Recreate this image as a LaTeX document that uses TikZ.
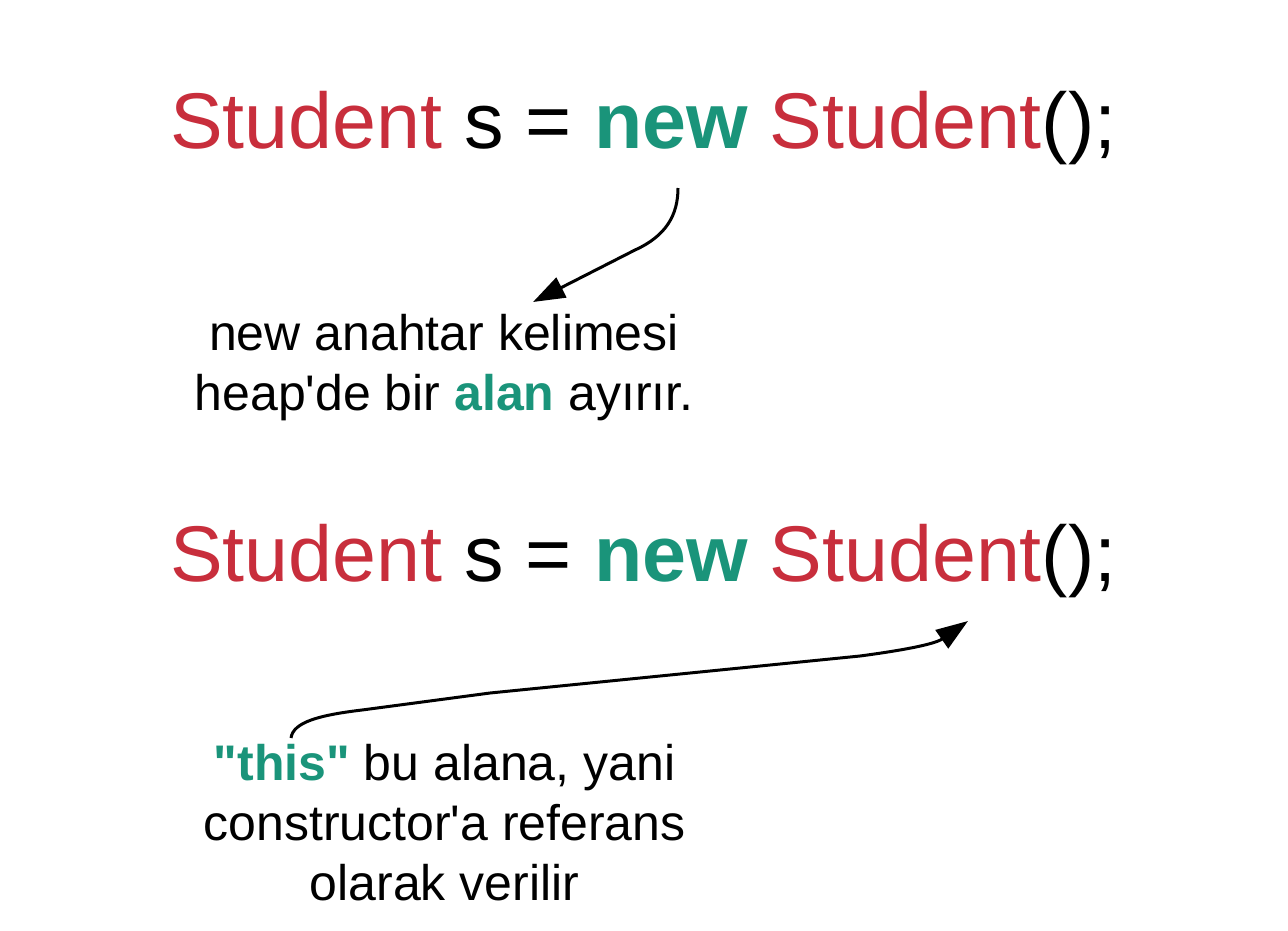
\documentclass[tikz,border=0pt]{standalone}
\usepackage{fontspec}
\setmainfont{Liberation Sans}[Ligatures=TeXOff]
\usetikzlibrary{arrows.meta}
\definecolor{codered}{RGB}{200,46,60}
\definecolor{codegreen}{RGB}{26,148,122}
\begin{document}
\begin{tikzpicture}[x=1pt,y=-1pt,
  code/.style={inner sep=0pt,anchor=base west,font=\fontsize{79}{90}\selectfont},
  note/.style={inner sep=0pt,align=center,font=\fontsize{50}{60}\selectfont},
  pointer/.style={line width=3pt,-{Triangle[length=32pt,width=22pt]}}]
\useasboundingbox[fill=white] (0,0) rectangle (1288,930);
\node[code] (line1) at (170,148) {{\color{codered}Student} s = {\bfseries\color{codegreen}new} {\color{codered}Student}();};
\node[code] (line2) at (170,581) {{\color{codered}Student} s = {\bfseries\color{codegreen}new} {\color{codered}Student}();};
\node[note,anchor=base] (note1) at (444,410) {new anahtar kelimesi\\heap'de bir {\bfseries\color{codegreen}alan} ayırır.};
\node[note,anchor=base] (note2) at (444.5,900) {{\bfseries\color{codegreen}"this"} bu alana, yani\\constructor'a referans\\olarak verilir};
\coordinate (s1) at (678,188);
\coordinate (t1) at (533,302);
\coordinate (s2) at (291,738);
\coordinate (t2) at (968,621);
\draw[pointer] (s1) .. controls (678,215) and (666,236) .. (635,250) -- (t1);
\draw[pointer] (s2) .. controls (293,722) and (320,715) .. (362,710) -- (490,693) -- (860,656) .. controls (905,650) and (935,644) .. (t2);
\end{tikzpicture}
\end{document}
